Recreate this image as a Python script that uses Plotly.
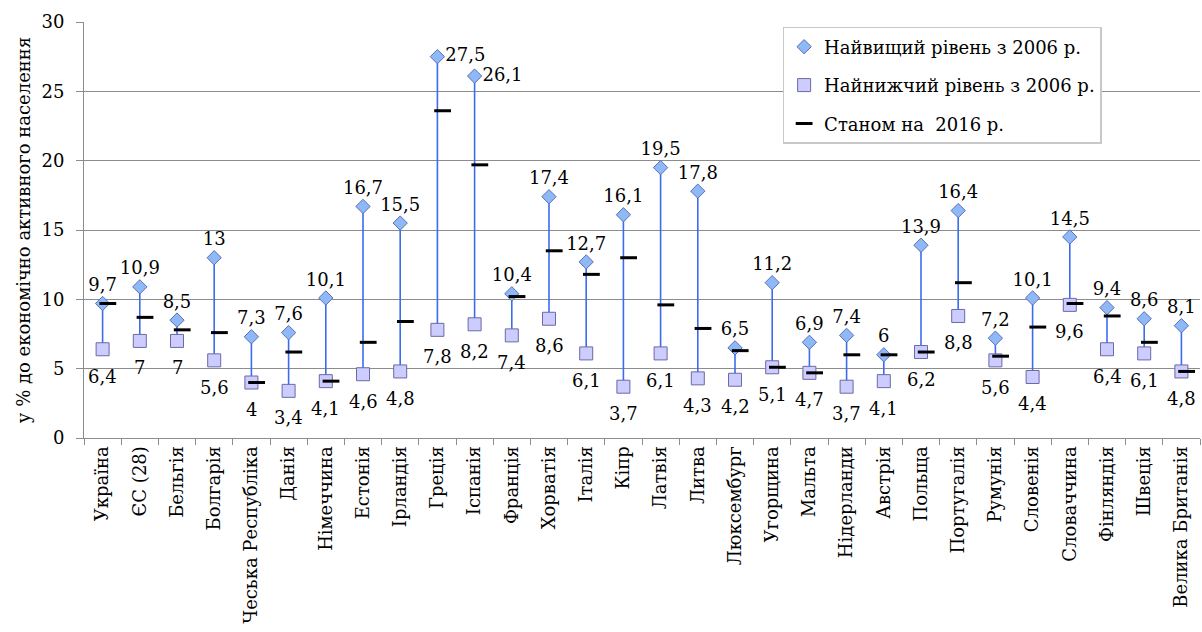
import plotly.graph_objects as go

countries = [
    "Україна", "ЄС (28)", "Бельгія", "Болгарія", "Чеська Республіка", "Данія",
    "Німеччина", "Естонія", "Ірландія", "Греція", "Іспанія", "Франція",
    "Хорватія", "Італія", "Кіпр", "Латвія", "Литва", "Люксембург", "Угорщина",
    "Мальта", "Нідерланди", "Австрія", "Польща", "Португалія", "Румунія",
    "Словенія", "Словаччина", "Фінляндія", "Швеція", "Велика Британія",
]
highest = [9.7, 10.9, 8.5, 13, 7.3, 7.6, 10.1, 16.7, 15.5, 27.5, 26.1, 10.4,
           17.4, 12.7, 16.1, 19.5, 17.8, 6.5, 11.2, 6.9, 7.4, 6, 13.9, 16.4,
           7.2, 10.1, 14.5, 9.4, 8.6, 8.1]
lowest = [6.4, 7, 7, 5.6, 4, 3.4, 4.1, 4.6, 4.8, 7.8, 8.2, 7.4, 8.6, 6.1,
          3.7, 6.1, 4.3, 4.2, 5.1, 4.7, 3.7, 4.1, 6.2, 8.8, 5.6, 4.4, 9.6,
          6.4, 6.1, 4.8]
level_2016 = [9.7, 8.7, 7.8, 7.6, 4.0, 6.2, 4.1, 6.9, 8.4, 23.6, 19.7, 10.2,
              13.5, 11.8, 13.0, 9.6, 7.9, 6.3, 5.1, 4.7, 6.0, 6.0, 6.2, 11.2,
              5.9, 8.0, 9.7, 8.8, 6.9, 4.8]
y_ticks = [0, 5, 10, 15, 20, 25, 30]

FONT = "DejaVu Serif"
FS = 18


def fmt(v):
    s = ("%g" % v)
    return s.replace(".", ",")


# high-low connectors, one vertical segment per country
seg_x, seg_y = [], []
for c, hi, lo in zip(countries, highest, lowest):
    seg_x += [c, c, None]
    seg_y += [hi, lo, None]

fig = go.Figure()

fig.add_trace(go.Scatter(
    x=seg_x, y=seg_y, mode="lines",
    line=dict(color="#3a6cf0", width=1.6),
    showlegend=False, hoverinfo="skip",
))

fig.add_trace(go.Scatter(
    x=countries, y=highest, mode="markers+text",
    name="Найвищий рівень з 2006 р.",
    legendgroup="a",
    marker=dict(symbol="diamond", size=11, color="#8fb8f6",
                line=dict(color="#5b6fb8", width=1)),
    text=[fmt(v) for v in highest],
    textposition=["middle right" if v > 25 else "top center" for v in highest],
    textfont=dict(family=FONT, size=FS, color="#000000"),
    cliponaxis=False,
))

fig.add_trace(go.Scatter(
    x=countries, y=lowest, mode="markers",
    name="Найнижчий рівень з 2006 р.",
    legendgroup="b",
    marker=dict(symbol="square", size=13, color="#ccccff",
                line=dict(color="#6a6aa6", width=1)),
    cliponaxis=False,
))

fig.add_trace(go.Scatter(
    x=countries, y=level_2016, mode="markers",
    name="Станом на  2016 р.",
    legendgroup="c",
    xaxis="x2",
    marker=dict(symbol="line-ew", size=12,
                line=dict(color="#000000", width=3)),
))

# value labels under the lowest-level squares
for c, v in zip(countries, lowest):
    fig.add_annotation(
        x=c, y=v, text=fmt(v), showarrow=False,
        yanchor="middle", yshift=-27,
        font=dict(family=FONT, size=FS, color="#000000"),
    )

n = len(countries)
shift = 0.14
fig.update_layout(
    width=1202, height=632,
    margin=dict(l=84, r=2, t=22, b=194),
    paper_bgcolor="white", plot_bgcolor="white",
    font=dict(family=FONT, size=FS, color="#000000"),
    xaxis=dict(
        type="category", categoryorder="array", categoryarray=countries,
        range=[-0.5, n - 0.5], automargin=False,
        tickangle=-90, tickson="boundaries",
        ticks="outside", ticklen=6, tickcolor="#8c8c8c",
        showline=True, linecolor="#8c8c8c", linewidth=1,
        showgrid=False, tickfont=dict(family=FONT, size=FS),
    ),
    xaxis2=dict(
        type="category", categoryorder="array", categoryarray=countries,
        range=[-0.5 - shift, n - 0.5 - shift],
        overlaying="x", visible=False,
    ),
    yaxis=dict(
        range=[0, 30], tickvals=y_ticks, automargin=False,
        ticks="outside", ticklen=7, tickcolor="#8c8c8c",
        ticklabelstandoff=8,
        showline=True, linecolor="#8c8c8c", linewidth=1,
        showgrid=True, gridcolor="#8c8c8c", gridwidth=1,
        zeroline=False,
        tickfont=dict(family=FONT, size=FS),
        title=dict(text="у % до економічно активного населення",
                   font=dict(family=FONT, size=18), standoff=6),
    ),
    legend=dict(
        x=0.626, y=0.988, xanchor="left", yanchor="top",
        bgcolor="white", bordercolor="#c8c8c8", borderwidth=1.5,
        font=dict(family=FONT, size=18),
        traceorder="grouped", tracegroupgap=12,
        itemwidth=30,
    ),
)

fig.write_html("out.html")
